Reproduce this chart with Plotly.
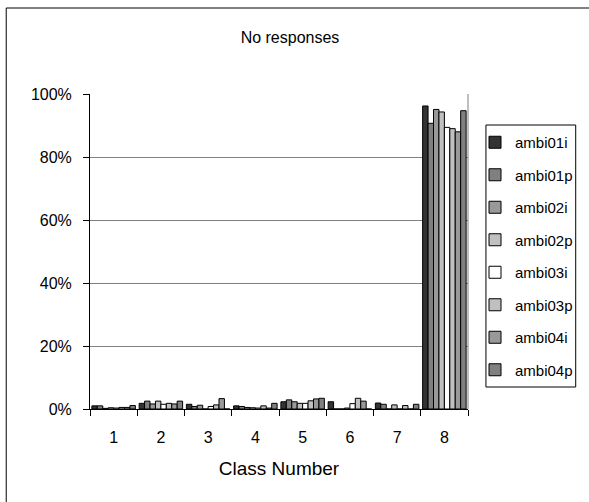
import plotly.graph_objects as go

# Class numbers on the x axis
classes = ["1", "2", "3", "4", "5", "6", "7", "8"]

# Share of "no responses" per class (percent), one list per series
ambi01i = [1.0, 1.8, 1.5, 1.0, 2.3, 2.3, 1.9, 96.2]
ambi01p = [1.0, 2.5, 0.8, 0.8, 2.9, 0.0, 1.5, 90.7]
ambi02i = [0.2, 1.6, 1.2, 0.5, 2.3, 0.0, 0.0, 95.1]
ambi02p = [0.4, 2.5, 0.0, 0.4, 1.8, 0.3, 1.3, 94.3]
ambi03i = [0.3, 1.5, 0.8, 0.3, 1.8, 1.7, 0.0, 89.4]
ambi03p = [0.5, 1.8, 1.3, 1.0, 2.6, 3.4, 1.1, 89.0]
ambi04i = [0.5, 1.6, 3.3, 0.3, 3.2, 2.5, 0.0, 88.0]
ambi04p = [1.1, 2.5, 0.0, 1.8, 3.4, 0.0, 1.5, 94.7]

series_names = ["ambi01i", "ambi01p", "ambi02i", "ambi02p", "ambi03i", "ambi03p", "ambi04i", "ambi04p"]
series_values = [ambi01i, ambi01p, ambi02i, ambi02p, ambi03i, ambi03p, ambi04i, ambi04p]

y_ticks = [0, 20, 40, 60, 80, 100]
y_tick_labels = ["0%", "20%", "40%", "60%", "80%", "100%"]

W, H = 589, 502
# plot area in pixels: x 90..469, y 94..409
PX0, PW, PY0, PH = 90, 379, 409, 315


def px_x(x):
    return (x - PX0) / PW


def px_y(y):
    return (PY0 - y) / PH


def build_chart():
    """Grouped grey bar chart of no-response rates by class."""
    fig = go.Figure()

    # Grey print palette, same order as the series
    colors = ["#333333", "#808080", "#999999", "#C0C0C0", "#FFFFFF", "#C0C0C0", "#999999", "#808080"]
    font = "Liberation Sans, Arial, sans-serif"

    for i, name in enumerate(series_names):
        fig.add_trace(
            go.Bar(
                x=classes,
                y=series_values[i],
                name=name,
                legendgroup=name,
                marker={"color": colors[i], "line": {"color": "#000000", "width": 1}},
            )
        )

    fig.update_layout(
        width=W,
        height=H,
        margin={"l": PX0, "r": W - PX0 - PW, "t": PY0 - PH, "b": H - PY0},
        paper_bgcolor="white",
        plot_bgcolor="white",
        barmode="group",
        bargap=0.08,
        bargroupgap=0,
        font={"family": font, "size": 16, "color": "#000000"},
        title={
            "text": "No responses",
            "x": 290 / W,
            "xref": "container",
            "xanchor": "center",
            "y": 1 - 37 / H,
            "yanchor": "middle",
            "font": {"size": 16},
        },
        # legend frame is drawn as a shape below, legend itself is borderless
        legend={
            "x": px_x(475),
            "xanchor": "left",
            "y": px_y(126),
            "yanchor": "top",
            "borderwidth": 0,
            "bgcolor": "rgba(0,0,0,0)",
            "traceorder": "grouped",
            "tracegroupgap": 10,
            "font": {"size": 15},
        },
        showlegend=True,
    )

    fig.update_xaxes(
        showline=True,
        linecolor="#000000",
        linewidth=1,
        ticks="outside",
        tickson="boundaries",
        ticklen=6,
        tickcolor="#000000",
        ticklabelstandoff=14,
        showgrid=False,
        title={"text": "Class Number", "standoff": 16},
    )

    fig.update_yaxes(
        range=[0, 100],
        tickvals=y_ticks,
        ticktext=y_tick_labels,
        showline=True,
        linecolor="#000000",
        linewidth=1,
        ticks="outside",
        ticklen=6,
        tickcolor="#000000",
        ticklabelstandoff=8,
        showgrid=True,
        gridcolor="#808080",
        gridwidth=1,
        zeroline=False,
    )

    # Grey plot-area frame on the right side
    fig.add_shape(
        type="line", xref="paper", yref="paper", x0=1, x1=1, y0=0, y1=1,
        line={"color": "#808080", "width": 1}, layer="below",
    )

    # Legend frame
    fig.add_shape(
        type="rect", xref="paper", yref="paper",
        x0=px_x(487), x1=px_x(577), y0=px_y(387), y1=px_y(125),
        line={"color": "#000000", "width": 1},
    )

    # Outer chart border (only left and top edges fall inside the picture)
    fig.add_shape(
        type="rect", xref="paper", yref="paper",
        x0=px_x(6), x1=px_x(620), y0=px_y(540), y1=px_y(8),
        line={"color": "#000000", "width": 1},
    )

    return fig


if __name__ == "__main__":
    fig = build_chart()
    # drop the default page margin so the figure sits at the window's corner
    fig.write_html(
        "out.html",
        config={"displayModeBar": False},
        post_script="document.body.style.margin='0';",
    )
